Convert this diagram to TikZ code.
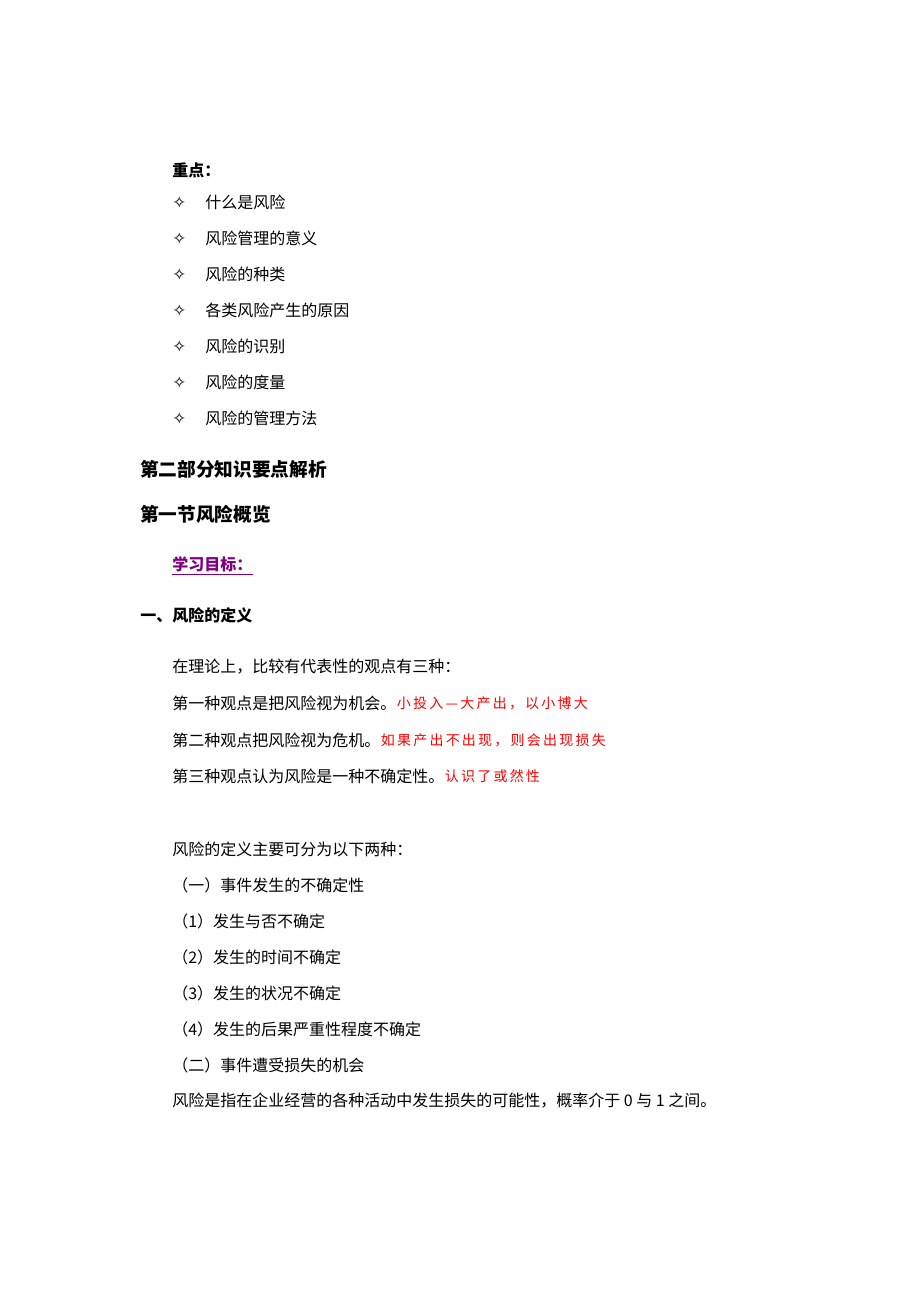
\documentclass[tikz,border=0pt]{standalone}
\usepackage{fontspec}
\setmainfont{Noto Sans CJK SC}
\newfontfamily\symfont{DejaVu Sans}
\newfontfamily\notefont{Noto Sans CJK SC}[LetterSpace=16]
\usetikzlibrary{positioning}
\definecolor{notered}{RGB}{255,0,0}
\definecolor{goalpurple}{RGB}{128,0,128}

\begin{document}
\begin{tikzpicture}[x=0.75pt,y=-0.75pt,
	every node/.style={inner sep=0pt,anchor=west},
	body/.style={font=\fontsize{12pt}{14pt}\selectfont},
	head/.style={font=\fontsize{14pt}{17pt}\selectfont\bfseries},
	sub/.style={font=\fontsize{12pt}{14pt}\selectfont\bfseries},
	bulletsym/.style={font=\fontsize{12.5pt}{14pt}\symfont},
	note/.style={font=\fontsize{10.5pt}{13pt}\notefont,text=notered}]
\useasboundingbox[fill=white] (0,0) rectangle (920,1302);
% key points
\node[sub] (key) at (172,170) {重点：};
\foreach \txt [count=\i] in {什么是风险,风险管理的意义,风险的种类,各类风险产生的原因,风险的识别,风险的度量,风险的管理方法}{
	\node[bulletsym] (m\i) at (172,166+36*\i) {✧};
	\node[body] (k\i) at (205,166+36*\i) {\txt};
}
% headings
\node[head] (part) at (140,469) {第二部分知识要点解析};
\node[head] (sect) at (140,514) {第一节风险概览};
\node[sub,text=goalpurple] (goal) at (172,564) {学习目标：};
\draw[goalpurple,line width=0.75pt] ([yshift=-2pt]goal.south west) -- ([yshift=-2pt]goal.south east);
\node[sub] (def) at (140,615) {一、风险的定义};
% views
\node[body] (intro) at (172,667) {在理论上，比较有代表性的观点有三种：};
\node[body] (v1) at (172,703) {第一种观点是把风险视为机会。};
\node[note,right=0pt of v1] (n1) {小投入—大产出，以小博大};
\node[body] (v2) at (172,740) {第二种观点把风险视为危机。};
\node[note,right=0pt of v2] (n2) {如果产出不出现，则会出现损失};
\node[body] (v3) at (172,776) {第三种观点认为风险是一种不确定性。};
\node[note,right=0pt of v3] (n3) {认识了或然性};
% two definitions
\foreach \txt [count=\i from 0] in {风险的定义主要可分为以下两种：,（一）事件发生的不确定性,（1）发生与否不确定,（2）发生的时间不确定,（3）发生的状况不确定,（4）发生的后果严重性程度不确定,（二）事件遭受损失的机会,风险是指在企业经营的各种活动中发生损失的可能性，概率介于 0 与 1 之间。}{
	\node[body] (d\i) at (172,849+36*\i) {\txt};
}
\end{tikzpicture}
\end{document}
